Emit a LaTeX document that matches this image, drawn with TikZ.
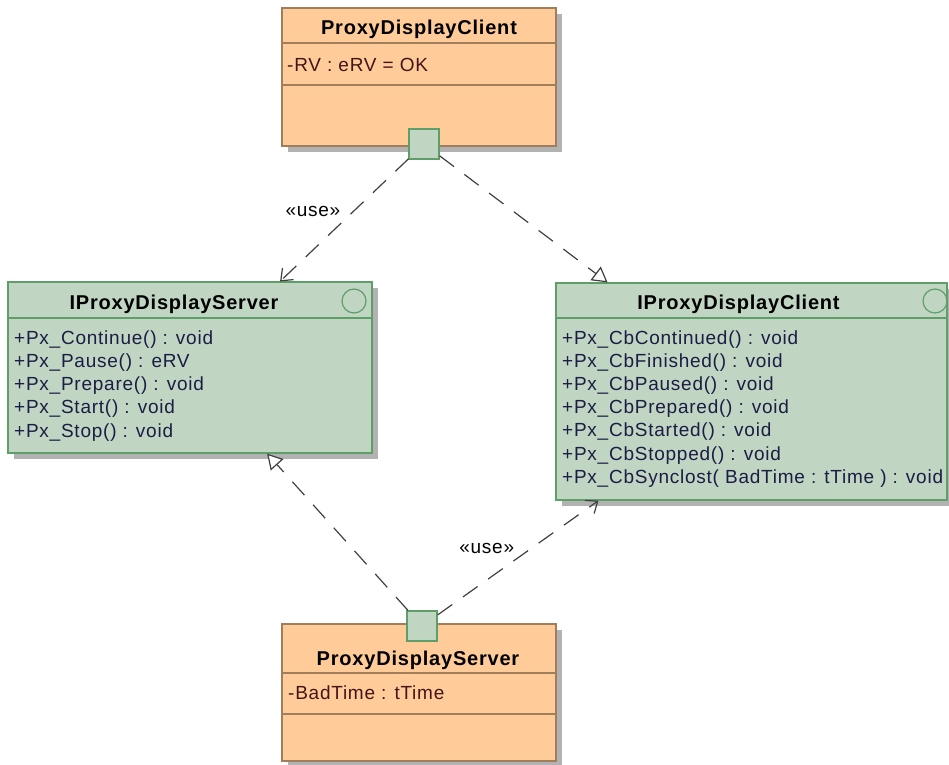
\documentclass[tikz,border=0pt]{standalone}
\usepackage{fontspec}
\setmainfont{Liberation Sans}
\newfontfamily\umlfont[LetterSpace=4]{Liberation Sans}
\usepackage{xcolor}
\usetikzlibrary{arrows.meta, positioning}

\definecolor{classorange}{HTML}{FFCC99}
\definecolor{orangeborder}{HTML}{A07E5C}
\definecolor{classgreen}{HTML}{C0D6C3}
\definecolor{greenborder}{HTML}{5E9E68}
\definecolor{shadowgray}{HTML}{B2B2B2}
\definecolor{linegray}{HTML}{404040}
\definecolor{optextcol}{HTML}{1C1C44}
\definecolor{attrtextcol}{HTML}{44141C}

\tikzset{
  shadowed/.style={preaction={fill=shadowgray, draw=none, transform canvas={shift={(6pt,-6pt)}}}},
  orangebox/.style={rectangle, draw=orangeborder, fill=classorange, line width=1.2pt, inner sep=0pt, shadowed},
  greenbox/.style={rectangle, draw=greenborder, fill=classgreen, line width=1.2pt, inner sep=0pt, shadowed},
  port/.style={rectangle, draw=greenborder, fill=classgreen, line width=1.2pt, minimum size=30pt, inner sep=0pt},
  iface/.style={circle, draw=greenborder, line width=1.2pt, minimum size=24pt, inner sep=0pt},
  titletext/.style={anchor=base, inner sep=0pt, font=\umlfont\fontsize{20}{22}\selectfont\bfseries},
  optext/.style={anchor=base west, inner sep=0pt, text=optextcol, font=\umlfont\fontsize{19}{22}\selectfont},
  attrtext/.style={anchor=base west, inner sep=0pt, text=attrtextcol, font=\umlfont\fontsize{19}{22}\selectfont},
  uselink/.style={draw=linegray, line width=1.2pt, dash pattern=on 18pt off 13pt, -{Straight Barb[length=10pt, width=16pt]}},
  realize/.style={draw=linegray, line width=1.2pt, dash pattern=on 18pt off 13pt, -{Triangle[open, length=15pt, width=17pt, fill=white]}},
  stereo/.style={font=\umlfont\fontsize{19}{22}\selectfont}
}

\begin{document}
\begin{tikzpicture}[x=1pt, y=-1pt]
  \useasboundingbox (0,0) rectangle (949,764);

  % classes
  \node[orangebox, minimum width=274pt, minimum height=138pt] (client) at (419,77) {};
  \node[greenbox, minimum width=364pt, minimum height=171pt] (iserver) at (190,367.5) {};
  \node[greenbox, minimum width=391pt, minimum height=217pt] (iclient) at (751.5,391.5) {};
  \node[orangebox, minimum width=274pt, minimum height=137pt] (server) at (419,692.5) {};

  % compartments
  \draw[orangeborder, line width=1.2pt] (client.west |- 0,43) -- (client.east |- 0,43);
  \draw[orangeborder, line width=1.2pt] (client.west |- 0,85) -- (client.east |- 0,85);
  \draw[greenborder, line width=1.2pt] (iserver.west |- 0,318) -- (iserver.east |- 0,318);
  \draw[greenborder, line width=1.2pt] (iclient.west |- 0,318) -- (iclient.east |- 0,318);
  \draw[orangeborder, line width=1.2pt] (server.west |- 0,673) -- (server.east |- 0,673);
  \draw[orangeborder, line width=1.2pt] (server.west |- 0,714) -- (server.east |- 0,714);

  % titles
  \node[titletext] (clienttitle) at (419,34.7) {ProxyDisplayClient};
  \node[titletext] (iservertitle) at (174,309) {IProxyDisplayServer};
  \node[titletext] (iclienttitle) at (738.5,309) {IProxyDisplayClient};
  \node[titletext] (servertitle) at (418,665.7) {ProxyDisplayServer};

  \node[iface] (iservercircle) at (354,301) {};
  \node[iface] (iclientcircle) at (935,301) {};

  % attributes and operations
  \node[attrtext] (clientattr) at (287,71.7) {-RV : eRV = OK};
  \node[attrtext] (serverattr) at (288,699) {-BadTime : tTime};
  \foreach \op [count=\i from 0] in {{+Px\_Continue() : void}, {+Px\_Pause() : eRV},
      {+Px\_Prepare() : void}, {+Px\_Start() : void}, {+Px\_Stop() : void}}
    \node[optext] (srvop\i) at (14,{344+23.3*\i}) {\op};
  \foreach \op [count=\i from 0] in {{+Px\_CbContinued() : void}, {+Px\_CbFinished() : void},
      {+Px\_CbPaused() : void}, {+Px\_CbPrepared() : void}, {+Px\_CbStarted() : void},
      {+Px\_CbStopped() : void}, {+Px\_CbSynclost( BadTime : tTime ) : void}}
    \node[optext] (cliop\i) at (562,{344+23.2*\i}) {\op};

  % ports
  \node[port] (clientport) at (424,144) {};
  \node[port] (serverport) at (422,626) {};

  % dependencies
  \draw[uselink] (clientport) -- (iserver) node[midway, above left, stereo] (use1) {«use»};
  \draw[realize] (clientport) -- (iclient);
  \draw[realize] (serverport) -- (iserver);
  \draw[uselink] (serverport) -- (iclient) node[midway, above left, stereo] (use2) {«use»};
\end{tikzpicture}
\end{document}
